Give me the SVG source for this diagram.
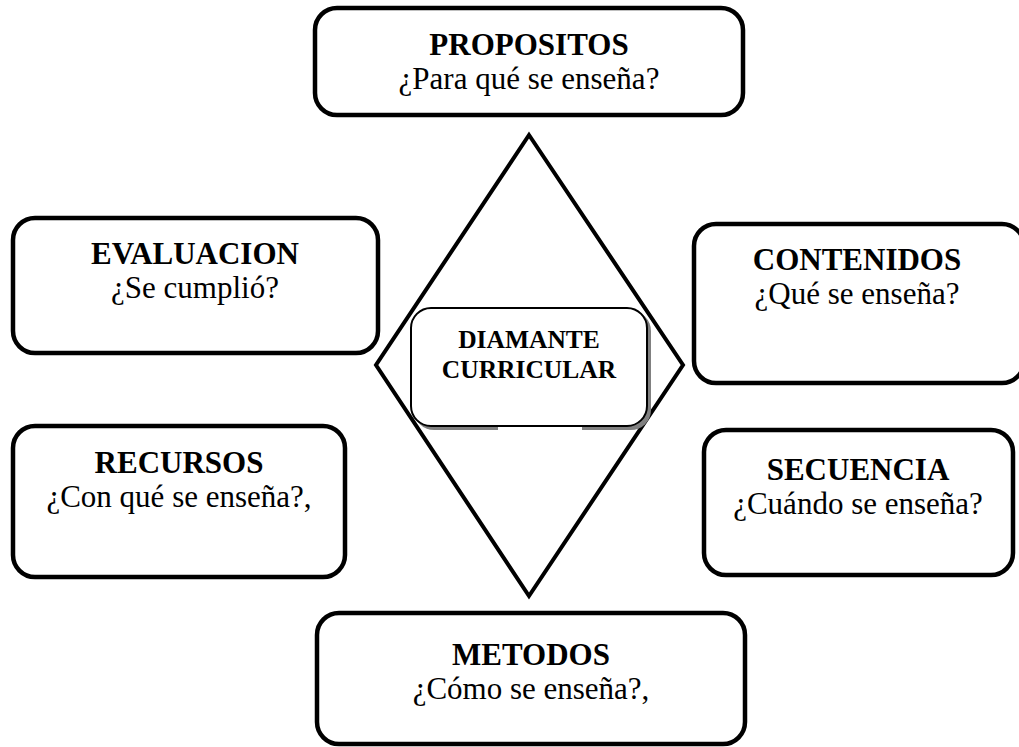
<svg xmlns="http://www.w3.org/2000/svg" width="1019" height="747" viewBox="0 0 1019 747">
<style>
.box{fill:#fff;stroke:#000;stroke-width:4.5}
.t{font-family:"Liberation Serif","Times New Roman",serif;font-size:31px;text-anchor:middle;fill:#000}
.b{font-weight:bold}
.c{font-family:"Liberation Serif","Times New Roman",serif;font-size:25.5px;font-weight:bold;text-anchor:middle;fill:#000}
</style>
<rect width="1019" height="747" fill="#fff"/>
<g id="connectors">
<polygon points="529,135 683,365 529,596 376,365" fill="none" stroke="#000" stroke-width="4"/>
</g>
<g id="propositos">
<rect class="box" x="315" y="8" width="428" height="107" rx="22"/>
<text class="t b" x="529" y="55">PROPOSITOS</text>
<text class="t" x="529" y="89">¿Para qué se enseña?</text>
</g>
<g id="evaluacion">
<rect class="box" x="13" y="218" width="365" height="135" rx="22"/>
<text class="t b" x="195" y="264">EVALUACION</text>
<text class="t" x="195" y="298">¿Se cumplió?</text>
</g>
<g id="contenidos">
<rect class="box" x="694" y="224" width="330" height="159" rx="22"/>
<text class="t b" x="857" y="270">CONTENIDOS</text>
<text class="t" x="857" y="304">¿Qué se enseña?</text>
</g>
<g id="recursos">
<rect class="box" x="13" y="426" width="332" height="151" rx="22"/>
<text class="t b" x="179" y="473">RECURSOS</text>
<text class="t" x="179" y="507">¿Con qué se enseña?,</text>
</g>
<g id="secuencia">
<rect class="box" x="704" y="430" width="309" height="145" rx="22"/>
<text class="t b" x="858" y="480">SECUENCIA</text>
<text class="t" x="858" y="514">¿Cuándo se enseña?</text>
</g>
<g id="metodos">
<rect class="box" x="317" y="613" width="428" height="131" rx="22"/>
<text class="t b" x="531" y="665">METODOS</text>
<text class="t" x="531" y="699">¿Cómo se enseña?,</text>
</g>
<g id="diamante">
<rect x="414" y="311" width="237" height="119" rx="20" fill="#808080"/>
<rect x="498" y="426" width="84" height="6" fill="#fff"/>
<rect x="411" y="308" width="236" height="118" rx="20" fill="#fff" stroke="#000" stroke-width="2"/>
<text class="c" x="529" y="348">DIAMANTE</text>
<text class="c" x="529" y="378">CURRICULAR</text>
</g>
</svg>
